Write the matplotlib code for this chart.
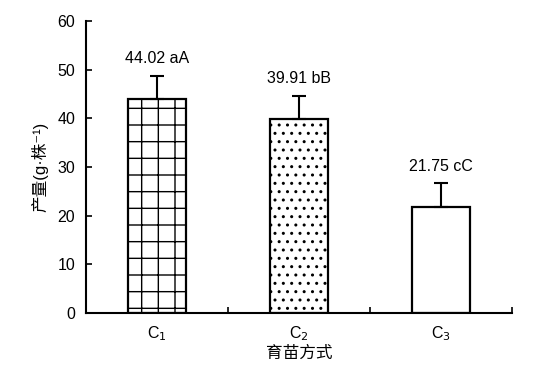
import matplotlib.pyplot as plt
import numpy as np

plt.rcParams['font.family'] = ['Liberation Sans', 'Noto Sans CJK SC', 'DejaVu Sans']
plt.rcParams['hatch.linewidth'] = 1.0

# data
treatments = ['C$_1$', 'C$_2$', 'C$_3$']
yields = [44.02, 39.91, 21.75]
errors = [4.7, 4.7, 4.9]
labels = ['44.02 aA', '39.91 bB', '21.75 cC']
hatches = ['+', '..', '']

def main():
	fig = plt.figure(figsize=(5.49, 3.83), dpi=100)
	ax = fig.add_axes([0.157, 0.183, 0.776, 0.762])

	x = np.arange(len(treatments)) + 0.5
	for i in range(len(treatments)):
		ax.bar(x[i], yields[i], width=0.41, color='white', edgecolor='black',
			   linewidth=1.6, hatch=hatches[i], zorder=2)
		ax.errorbar(x[i], yields[i], yerr=[[0], [errors[i]]], fmt='none',
					ecolor='black', elinewidth=1.5, capsize=5, capthick=1.5, zorder=3)
		ax.text(x[i], yields[i] + errors[i] + 2.0, labels[i], ha='center',
				va='bottom', fontsize=11.5)

	ax.set_xlim(0, 3)
	ax.set_ylim(0, 60)
	ax.set_yticks(range(0, 61, 10))
	ax.set_xticks([0, 1, 2, 3])
	ax.set_xticklabels([])
	ax.set_xticks(x, minor=True)
	ax.set_xticklabels(treatments, minor=True, fontsize=11.5)
	ax.tick_params(axis='x', which='minor', length=0, pad=8)
	ax.tick_params(axis='x', which='major', direction='in', length=4, width=1.2)
	ax.tick_params(axis='y', direction='in', length=4, width=1.2, labelsize=11.5, pad=8)

	ax.spines['top'].set_visible(False)
	ax.spines['right'].set_visible(False)
	ax.spines['left'].set_linewidth(1.5)
	ax.spines['bottom'].set_linewidth(1.5)

	ax.set_xlabel('育苗方式', fontsize=12, labelpad=2)
	ax.set_ylabel('产量(g·株⁻¹)', fontsize=12, labelpad=6)

	plt.savefig('out.png', dpi=100)
	print('wrote to out.png')

if __name__ == '__main__':
	main()
